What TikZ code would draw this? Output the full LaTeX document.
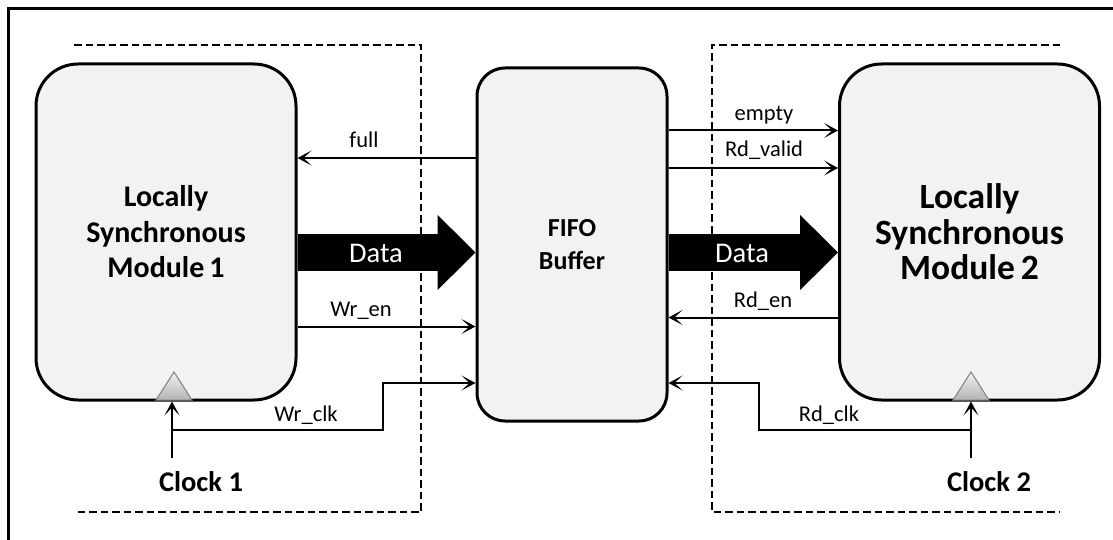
\documentclass[tikz,border=0pt]{standalone}
\usepackage{fontspec}
\setmainfont{Carlito}
\usetikzlibrary{arrows.meta,calc}
\definecolor{boxfill}{HTML}{F2F2F2}
\tikzset{
  module/.style={draw, line width=3pt, fill=boxfill, rounded corners=42pt,
    minimum width=260pt, minimum height=336pt, align=center, inner sep=0pt},
  fifobox/.style={draw, line width=3pt, fill=boxfill, rounded corners=28pt,
    minimum width=190pt, minimum height=353pt, align=center, inner sep=0pt,
    font=\fontsize{26}{33}\selectfont\bfseries},
  sig/.style={line width=2pt, -{Stealth[length=14pt,width=15pt,inset=8pt]}},
  siglabel/.style={anchor=base, inner sep=0pt, font=\fontsize{22.5}{26}\selectfont},
  clocklabel/.style={anchor=base, inner sep=0pt, font=\fontsize{28.5}{32}\selectfont\bfseries},
  datalabel/.style={anchor=base, inner sep=0pt, text=white, font=\fontsize{28.5}{32}\selectfont},
  dataarrow/.style={line width=37pt, -{Triangle[length=38pt,width=73pt]}},
  boundary/.style={line width=2pt, dash pattern=on 7.5pt off 4pt},
  clocktri/.style={draw=gray, line width=1pt, top color=gray!10, bottom color=gray!60},
}
\begin{document}
\begin{tikzpicture}[x=1pt,y=-1pt]
\clip (0,0) rectangle (1113,540);
% outer frame
\draw[line width=3pt] (8,9) rectangle (1140,570);
% clock domain boundaries
\draw[boundary] (74,45) -- (421,45) -- (421,512) -- (74,512);
\draw[boundary] (1060,45) -- (712,45) -- (712,512) -- (1060,512);
% blocks
\node[module, font=\fontsize{30}{35.5}\selectfont\bfseries] (m1) at (166,232)
  {Locally\\Synchronous\\Module\,1};
\node[fifobox] (fifo) at (572,244.5) {FIFO\\Buffer};
\node[module, font=\fontsize{35.5}{35.5}\selectfont\bfseries] (m2) at (969.5,232)
  {Locally\\Synchronous\\Module\,2};
% clock symbols
\coordinate (t1) at (174,400);
\coordinate (t2) at (971,400);
\draw[clocktri] ($(t1)+(-18,0)$) -- ($(t1)+(0,-28)$) -- ($(t1)+(18,0)$) -- cycle;
\draw[clocktri] ($(t2)+(-18,0)$) -- ($(t2)+(0,-28)$) -- ($(t2)+(18,0)$) -- cycle;
% left signals
\draw[sig] (fifo.west |- 0,158) -- (m1.east |- 0,158);
\node[siglabel] (lfull) at (364,148) {full};
\draw[dataarrow] (m1.east |- 0,252.5) -- (fifo.west |- 0,252.5);
\node[datalabel] (ldata1) at (376,262) {Data};
\draw[sig] (m1.east |- 0,326.5) -- (fifo.west |- 0,326.5);
\node[siglabel] (lwren) at (361,316) {Wr\_en};
% clock 1
\node[clocklabel] (clk1) at (201,491) {Clock 1};
\coordinate (c1s) at (172,458);
\draw[sig] (c1s) -- (c1s |- m1.south);
\draw[sig] (c1s |- 0,430) -| (383,383) -- (fifo.west |- 0,383);
\node[siglabel] (lwrclk) at (306,421) {Wr\_clk};
% right signals
\draw[sig] (fifo.east |- 0,130.5) -- (m2.west |- 0,130.5);
\node[siglabel] (lempty) at (764,120.5) {empty};
\draw[sig] (fifo.east |- 0,168) -- (m2.west |- 0,168);
\node[siglabel] (lrdvalid) at (764,157) {Rd\_valid};
\draw[dataarrow] (fifo.east |- 0,252.5) -- (m2.west |- 0,252.5);
\node[datalabel] (ldata2) at (742,262) {Data};
\draw[sig] (m2.west |- 0,317.5) -- (fifo.east |- 0,317.5);
\node[siglabel] (lrden) at (763,307.5) {Rd\_en};
% clock 2
\node[clocklabel] (clk2) at (989,491) {Clock 2};
\coordinate (c2s) at (971,458);
\draw[sig] (c2s) -- (c2s |- m2.south);
\draw[sig] (c2s |- 0,430) -| (759,383) -- (fifo.east |- 0,383);
\node[siglabel] (lrdclk) at (829,421) {Rd\_clk};
\end{tikzpicture}
\end{document}
